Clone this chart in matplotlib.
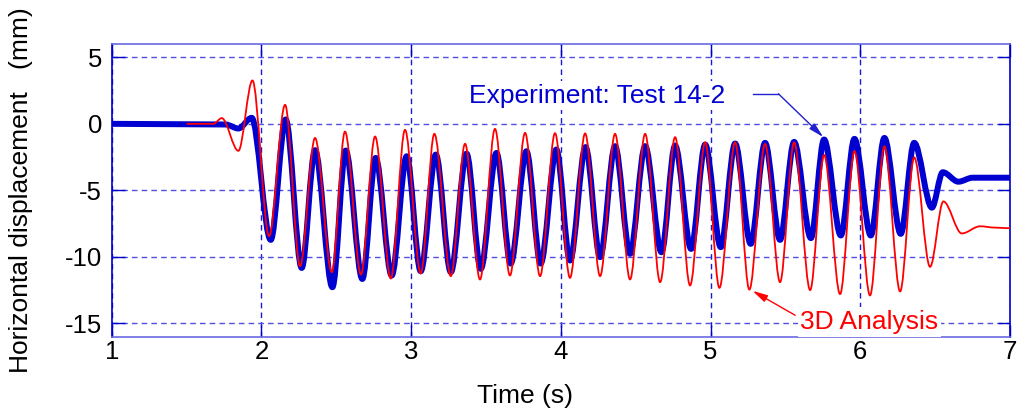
import matplotlib
matplotlib.use('Agg')
import matplotlib.pyplot as plt
from matplotlib.path import Path
from matplotlib.patches import PathPatch

plt.rcParams['font.family'] = ['Liberation Sans', 'DejaVu Sans']
plt.rcParams['axes.unicode_minus'] = False

# turning points of the shake table record, Test 14-2 (time s, displacement mm)
exp_t = [1.00, 1.76, 1.846, 1.935, 2.062, 2.162, 2.269, 2.358, 2.474, 2.563,
         2.674, 2.763, 2.870, 2.970, 3.064, 3.165, 3.265, 3.370, 3.465, 3.570,
         3.665, 3.770, 3.865, 3.970, 4.061, 4.165, 4.262, 4.362, 4.462, 4.563,
         4.672, 4.763, 4.870, 4.964, 5.068, 5.164, 5.268, 5.364, 5.464, 5.558,
         5.670, 5.758, 5.870, 5.961, 6.070, 6.161, 6.270, 6.360, 6.478, 6.551,
         6.655, 6.750, 7.00]
exp_d = [0.0, -0.05, -0.35, 0.45, -8.72, 0.33, -10.83, -1.98, -12.28, -2.01,
         -11.66, -2.56, -11.40, -2.44, -11.08, -2.31, -11.15, -2.24, -10.90, -2.19,
         -10.50, -2.06, -10.50, -1.93, -10.27, -1.75, -10.02, -1.68, -9.77, -1.68,
         -9.65, -1.63, -9.40, -1.56, -9.27, -1.48, -9.02, -1.43, -8.72, -1.36,
         -8.59, -1.18, -8.39, -1.13, -8.39, -1.06, -8.27, -1.43, -6.30, -3.64,
         -4.35, -4.05, -4.05]

# turning points of the 3D analysis
ana_t = [1.50, 1.679, 1.735, 1.846, 1.940, 2.051, 2.158, 2.258, 2.358, 2.470,
         2.558, 2.665, 2.759, 2.864, 2.959, 3.064, 3.155, 3.265, 3.360, 3.460,
         3.560, 3.660, 3.761, 3.861, 3.961, 4.061, 4.162, 4.262, 4.362, 4.462,
         4.563, 4.663, 4.763, 4.863, 4.964, 5.059, 5.164, 5.259, 5.364, 5.464,
         5.558, 5.665, 5.758, 5.865, 5.961, 6.065, 6.161, 6.266, 6.360, 6.466,
         6.555, 6.678, 6.800, 6.900, 7.00]
ana_d = [0.0, 0.0, 0.43, -2.03, 3.26, -8.44, 1.43, -10.70, -1.06, -11.15,
         -0.58, -11.33, -0.95, -11.63, -0.45, -11.25, -0.75, -11.45, -1.50, -11.70,
         -0.38, -11.40, -0.68, -11.45, -0.70, -11.58, -0.72, -11.45, -0.75, -11.70,
         -0.75, -11.90, -1.00, -12.15, -1.39, -12.33, -1.39, -12.46, -1.51, -11.90,
         -1.39, -12.50, -2.34, -12.80, -2.06, -12.90, -1.69, -12.60, -2.52, -10.75,
         -5.83, -8.24, -7.70, -7.80, -7.85]

x_ticks = [1, 2, 3, 4, 5, 6, 7]
y_ticks = [-15, -10, -5, 0, 5]


def smooth_path(t, d):
    # cubic segments with flat tangents at every turning point
    verts = [(t[0], d[0])]
    codes = [Path.MOVETO]
    for i in range(len(t) - 1):
        h = (t[i + 1] - t[i]) / 3
        verts += [(t[i] + h, d[i]), (t[i + 1] - h, d[i + 1]), (t[i + 1], d[i + 1])]
        codes += [Path.CURVE4] * 3
    return Path(verts, codes)


fig = plt.figure(figsize=(10.23, 4.19), dpi=100)
ax = fig.add_axes([0.1092, 0.1964, 0.8781, 0.6986])

blue = '#0000d0'
red = '#ff0000'

ax.add_patch(PathPatch(smooth_path(exp_t, exp_d), fill=False, edgecolor=blue,
                       lw=4.3, joinstyle='round', capstyle='round', zorder=2))
ax.add_patch(PathPatch(smooth_path(ana_t, ana_d), fill=False, edgecolor=red,
                       lw=1.3, joinstyle='round', zorder=3))

ax.set_xlim(1, 7)
ax.set_ylim(-16, 6)
ax.set_xticks(x_ticks)
ax.set_yticks(y_ticks)

ax.set_axisbelow(True)
ax.xaxis.grid(True, color='#1a1ad0', ls=(0, (4, 3)), lw=1)
ax.yaxis.grid(True, color='#5050e0', ls=(0, (4, 3)), lw=1)

ax.tick_params(direction='in', length=9, width=1, color='#0000cc',
               top=True, right=True, labelsize=18.5)
ax.tick_params(axis='x', pad=2.5)
ax.tick_params(axis='y', pad=7)

for side in ['left', 'right']:
    ax.spines[side].set_color('#0000cc')
for side in ['top', 'bottom']:
    ax.spines[side].set_color('#6a6ae2')
for s in ax.spines.values():
    s.set_linewidth(1.2)

ax.set_xlabel('Time (s)', fontsize=19)
ax.xaxis.set_label_coords(0.46, -0.16)
ax.set_ylabel('Horizontal displacement   (mm)', fontsize=19)
ax.yaxis.set_label_coords(-0.088, 0.5)

# labels for the two curves
ax.text(3.385, 1.6, 'Experiment: Test 14-2', color=blue, fontsize=19,
        va='baseline', ha='left', zorder=4,
        bbox=dict(fc='white', ec='none', pad=2))
ax.plot([5.286, 5.453], [2.26, 2.26], color='#2020d0', lw=1, zorder=4)
ax.annotate('', xy=(5.753, -1.0), xytext=(5.453, 2.26),
            arrowprops=dict(arrowstyle='-|>,head_length=0.9,head_width=0.22',
                            color='#2020d0', lw=1, shrinkA=0, shrinkB=0),
            zorder=4)

ax.text(5.6, -15.4, '3D Analysis', color=red, fontsize=19,
        va='baseline', ha='left', zorder=4,
        bbox=dict(fc='white', ec='none', pad=2))
ax.annotate('', xy=(5.28, -12.55), xytext=(5.565, -14.39),
            arrowprops=dict(arrowstyle='-|>,head_length=0.9,head_width=0.22',
                            color=red, lw=1, shrinkA=0, shrinkB=0),
            zorder=4)

fig.savefig('out.png', dpi=100)
